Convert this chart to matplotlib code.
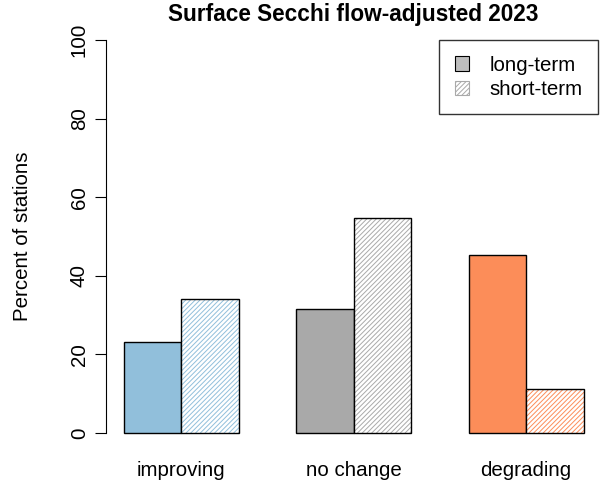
import matplotlib.pyplot as plt
from matplotlib.patches import Patch
import numpy as np

plt.rcParams['font.family'] = ['Liberation Sans', 'DejaVu Sans']
plt.rcParams['hatch.linewidth'] = 0.7

categories = ['improving', 'no change', 'degrading']
long_term = [23.2, 31.6, 45.3]
short_term = [34.1, 54.7, 11.2]
colors = ['#91BFDB', '#A9A9A9', '#FC8D59']

fig = plt.figure(figsize=(6.02, 4.86), dpi=100)
ax = fig.add_axes([0.1754, 0.0767, 0.8246, 0.8733])

# R style barplot positions: bar width 1, gap 1 between groups
left_long = np.array([1, 4, 7])
left_short = left_long + 1

for i in range(len(categories)):
    ax.bar(left_long[i], long_term[i], width=1, align='edge',
           color=colors[i], edgecolor='black', linewidth=1)
    # hatched bar: colour lines, then black outline on top
    ax.bar(left_short[i], short_term[i], width=1, align='edge',
           color='white', edgecolor=colors[i], hatch='///////', linewidth=0)
    ax.bar(left_short[i], short_term[i], width=1, align='edge',
           fill=False, edgecolor='black', linewidth=1)

ax.set_xlim(0.68, 9.32)
ax.set_ylim(-4, 104)
ax.set_yticks([0, 20, 40, 60, 80, 100])
ax.set_yticklabels(['0', '20', '40', '60', '80', '100'], rotation=90, va='center')
ax.set_xticks(left_long + 1)
ax.set_xticklabels(categories)
ax.tick_params(axis='x', length=0, pad=9, labelsize=14.8)
ax.tick_params(axis='y', length=8, pad=4, labelsize=14.8)

for s in ['top', 'right', 'bottom']:
    ax.spines[s].set_visible(False)
ax.spines['left'].set_bounds(0, 100)

fig.text(22 / 602, 1 - 236 / 486, 'Percent of stations', rotation=90,
         ha='center', va='center', fontsize=14.8)
fig.text(353 / 602, 1 - 15 / 486, 'Surface Secchi flow-adjusted 2023',
         ha='center', va='center', fontsize=16.3, fontweight='bold')

handles = [Patch(facecolor='#BEBEBE', edgecolor='black', linewidth=0.8),
           Patch(facecolor='white', edgecolor='#A9A9A9', hatch='///////', linewidth=0.8)]
leg = ax.legend(handles, ['long-term', 'short-term'], loc='upper right',
                bbox_to_anchor=(0.992, 0.962), borderaxespad=0, fontsize=14.8,
                frameon=True, fancybox=False, edgecolor='black',
                handlelength=0.7, handleheight=0.7,
                borderpad=0.75, labelspacing=0.25, handletextpad=1.0)
leg.get_frame().set_linewidth(1)

fig.savefig('out.png', dpi=100)
